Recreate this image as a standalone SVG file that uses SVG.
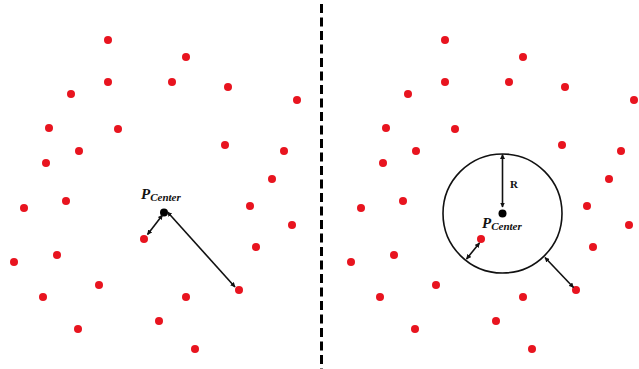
<svg xmlns="http://www.w3.org/2000/svg" width="639" height="369" viewBox="0 0 639 369">
<style>
.d{fill:#e8141f}
.c{fill:#000}
.ln{stroke:#111;stroke-width:1.6;fill:none}
.lbl{font-family:"Liberation Serif","DejaVu Serif",serif;font-weight:bold;font-style:italic;fill:#111}
.r{font-family:"Liberation Serif","DejaVu Serif",serif;font-weight:bold;fill:#111;font-size:11px}
</style>
<defs>
<marker id="ah" viewBox="0 0 10 10" refX="9" refY="5" markerWidth="5" markerHeight="5" orient="auto-start-reverse" markerUnits="userSpaceOnUse">
<path d="M0,0 L10,5 L0,10 z" fill="#111"/>
</marker>
<g id="pts">
<circle class="d" cx="108" cy="40" r="4"/>
<circle class="d" cx="186" cy="57" r="4"/>
<circle class="d" cx="108" cy="82" r="4"/>
<circle class="d" cx="172" cy="82" r="4"/>
<circle class="d" cx="228" cy="87" r="4"/>
<circle class="d" cx="71" cy="94" r="4"/>
<circle class="d" cx="297" cy="100" r="4"/>
<circle class="d" cx="49" cy="128" r="4"/>
<circle class="d" cx="118" cy="129" r="4"/>
<circle class="d" cx="225" cy="145" r="4"/>
<circle class="d" cx="79" cy="151" r="4"/>
<circle class="d" cx="284" cy="151" r="4"/>
<circle class="d" cx="46" cy="163" r="4"/>
<circle class="d" cx="272" cy="179" r="4"/>
<circle class="d" cx="66" cy="201" r="4"/>
<circle class="d" cx="24" cy="208" r="4"/>
<circle class="d" cx="250" cy="206" r="4"/>
<circle class="d" cx="292" cy="225" r="4"/>
<circle class="d" cx="144" cy="239" r="4"/>
<circle class="d" cx="256" cy="247" r="4"/>
<circle class="d" cx="57" cy="255" r="4"/>
<circle class="d" cx="14" cy="262" r="4"/>
<circle class="d" cx="99" cy="285" r="4"/>
<circle class="d" cx="43" cy="297" r="4"/>
<circle class="d" cx="239" cy="290" r="4"/>
<circle class="d" cx="186" cy="297" r="4"/>
<circle class="d" cx="159" cy="321" r="4"/>
<circle class="d" cx="78" cy="329" r="4"/>
<circle class="d" cx="195" cy="349" r="4"/>
</g>
</defs>
<rect width="639" height="369" fill="#fff"/>
<line x1="321.5" y1="4" x2="321.5" y2="369" stroke="#000" stroke-width="3" stroke-dasharray="9,4.5"/>
<g id="left-panel">
<use href="#pts"/>
<g id="left-center"><circle class="c" cx="164" cy="212.5" r="4"/>
<text class="lbl" x="141" y="199" font-size="15">P<tspan font-size="11" dy="2">Center</tspan></text></g>
</g>
<g id="right-panel">
<use href="#pts" transform="translate(337,0)"/>
<g id="right-circle"><circle cx="502.5" cy="213.5" r="59.5" fill="none" stroke="#111" stroke-width="1.6"/></g>
<g id="right-center"><circle class="c" cx="502.5" cy="213.5" r="4"/>
<text class="lbl" x="482" y="228" font-size="15">P<tspan font-size="11" dy="2">Center</tspan></text>
<text class="r" x="510" y="188">R</text></g>
</g>
<g id="connectors">
<line class="ln" x1="162.5" y1="215" x2="147.5" y2="234.5" marker-start="url(#ah)" marker-end="url(#ah)"/>
<line class="ln" x1="167.5" y1="212" x2="235" y2="287" marker-start="url(#ah)" marker-end="url(#ah)"/>
<line class="ln" x1="502.5" y1="154.5" x2="502.5" y2="207" marker-start="url(#ah)" marker-end="url(#ah)"/>
<line class="ln" x1="479.5" y1="243" x2="466.5" y2="259" marker-start="url(#ah)" marker-end="url(#ah)"/>
<line class="ln" x1="545" y1="257.5" x2="573.5" y2="287.5" marker-start="url(#ah)" marker-end="url(#ah)"/>
</g>
</svg>
